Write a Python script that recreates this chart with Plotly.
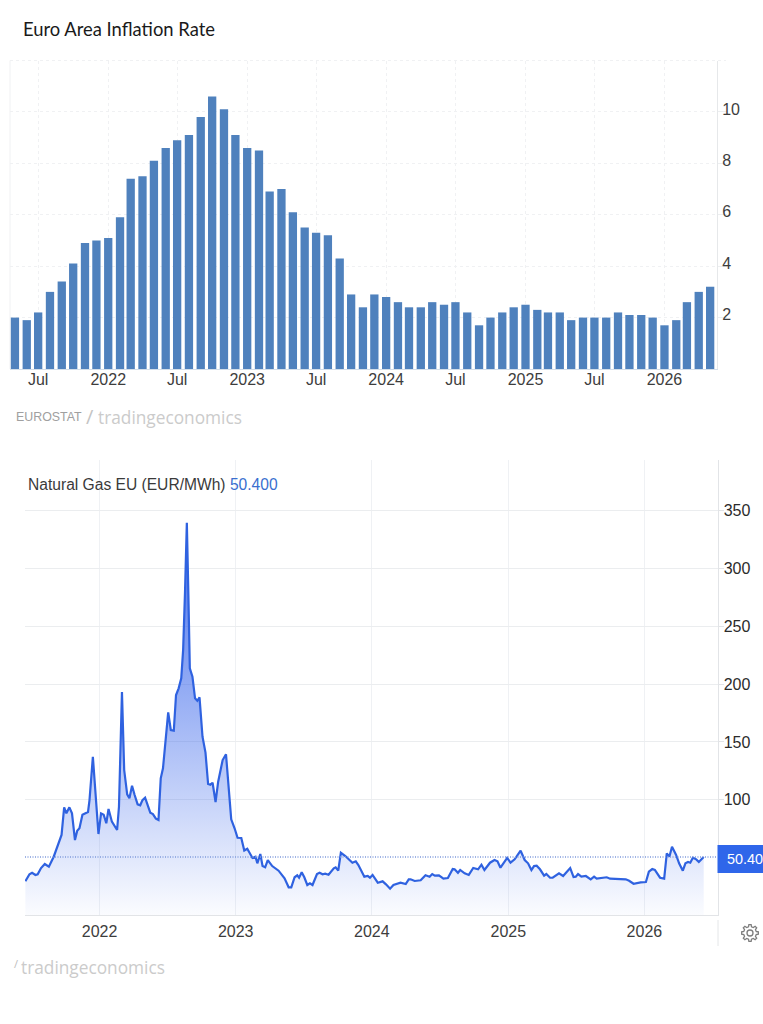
import math

import pandas as pd
import plotly.graph_objects as go

W, H = 763, 1024

# Euro area annual inflation, monthly readings, May 2021 onward
inflation_start = "2021-05-01"
inflation_values = [
    2.0, 1.9, 2.2, 3.0, 3.4, 4.1, 4.9, 5.0, 5.1, 5.9, 7.4, 7.5, 8.1, 8.6, 8.9, 9.1,
    9.8, 10.6, 10.1, 9.1, 8.6, 8.5, 6.9, 7.0, 6.1, 5.5, 5.3, 5.2, 4.3, 2.9, 2.4, 2.9,
    2.8, 2.6, 2.4, 2.4, 2.6, 2.5, 2.6, 2.2, 1.7, 2.0, 2.2, 2.4, 2.5, 2.3, 2.2, 2.2,
    1.9, 2.0, 2.0, 2.0, 2.2, 2.1, 2.1, 2.0, 1.7, 1.9, 2.6, 3.0, 3.2,
]
inflation_tick_dates = ["2021-07-01", "2022-01-01", "2022-07-01", "2023-01-01", "2023-07-01",
                        "2024-01-01", "2024-07-01", "2025-01-01", "2025-07-01", "2026-01-01"]
inflation_tick_labels = ["Jul", "2022", "Jul", "2023", "Jul", "2024", "Jul", "2025", "Jul", "2026"]
inflation_y_ticks = [2, 4, 6, 8, 10]

# TTF gas price: days counted from 1 Jan 2022, and EUR/MWh
gas_days = [
    -199, -188, -181, -172, -166, -157, -147, -136, -123, -113, -102, -95, -89, -81, -74, -66,
    -60, -54, -46, -31, -27, -18, -11, -3, 4, 11, 18, 24, 33, 47, 52, 60,
    66, 74, 80, 87, 94, 102, 109, 115, 122, 128, 136, 143, 151, 158, 164, 170,
    177, 184, 191, 199, 205, 212, 219, 224, 229, 234, 238, 242, 249, 256, 262, 268,
    276, 284, 291, 297, 303, 311, 318, 330, 339, 346, 353, 362, 370, 380, 388, 396,
    410, 418, 423, 431, 437, 444, 451, 463, 480, 496, 507, 514, 523, 530, 535, 542,
    549, 557, 564, 571, 583, 590, 598, 605, 614, 628, 633, 640, 647, 659, 671, 678,
    687, 694, 710, 719, 725, 732, 746, 759, 768, 779, 788, 807, 821, 829, 834, 845,
    861, 874, 885, 892, 899, 910, 922, 934, 947, 952, 961, 967, 979, 990, 1002, 1015,
    1024, 1032, 1047, 1059, 1067, 1075, 1093, 1102, 1113, 1129, 1140, 1149, 1158, 1165, 1172, 1181,
    1192, 1198, 1208, 1215, 1232, 1243, 1262, 1271, 1277, 1283, 1292, 1304, 1317, 1326, 1333, 1360,
    1369, 1389, 1411, 1420, 1432, 1451, 1465, 1473, 1482, 1489, 1503, 1514, 1521, 1528, 1535, 1546,
    1554, 1564, 1571, 1578, 1584, 1591, 1600, 1607, 1620,
]
gas_prices = [
    29.4, 35.5, 36.8, 34.9, 35.5, 40.9, 44.4, 42.0, 50.7, 59.9, 69.5, 93.4, 88.2, 93.4, 88.2, 65.1,
    73.2, 75.3, 87.0, 89.4, 99.7, 137.2, 105.5, 70.3, 88.2, 87.0, 79.6, 92.0, 81.0, 73.8, 93.9, 193.2,
    125.7, 104.7, 101.2, 112.1, 104.1, 96.0, 95.2, 99.7, 101.7, 96.9, 88.8, 87.6, 83.6, 82.4, 118.5, 127.2,
    151.6, 175.6, 160.3, 159.7, 190.6, 196.4, 205.0, 229.5, 278.8, 339.6, 278.8, 213.7, 206.4, 187.7, 185.6, 188.6,
    154.5, 140.8, 113.6, 113.0, 114.7, 98.0, 115.6, 134.3, 139.3, 114.2, 83.0, 75.3, 67.1, 66.9, 56.1, 57.6,
    49.6, 50.7, 45.0, 53.0, 42.6, 41.5, 47.8, 42.6, 38.6, 32.0, 24.2, 24.2, 32.9, 34.6, 32.5, 37.2,
    32.9, 26.2, 27.7, 26.2, 35.7, 36.8, 35.5, 36.0, 35.1, 40.7, 41.5, 38.6, 54.1, 51.3, 47.8, 45.5,
    46.7, 43.5, 33.4, 34.0, 32.5, 34.9, 28.2, 29.4, 26.8, 23.0, 26.2, 28.2, 27.1, 31.1, 31.1, 29.7,
    30.3, 34.6, 33.4, 35.7, 34.3, 34.6, 31.7, 32.3, 40.0, 39.8, 36.8, 39.2, 36.3, 34.9, 40.9, 39.8,
    43.8, 39.2, 45.5, 47.8, 46.7, 41.2, 49.6, 45.5, 48.4, 55.9, 47.8, 45.0, 39.2, 42.6, 42.9, 39.8,
    34.3, 35.7, 32.5, 32.5, 36.3, 34.0, 40.9, 33.1, 33.4, 35.7, 33.4, 34.0, 31.1, 33.4, 31.7, 32.9,
    31.7, 31.7, 31.1, 29.9, 27.3, 28.5, 28.8, 37.7, 40.0, 39.2, 32.5, 31.7, 53.6, 50.7, 59.3, 52.2,
    45.0, 38.6, 45.0, 46.1, 45.5, 49.8, 48.4, 46.1, 50.4,
]
gas_tick_dates = ["2022-01-01", "2023-01-01", "2024-01-01", "2025-01-01", "2026-01-01"]
gas_tick_labels = ["2022", "2023", "2024", "2025", "2026"]
gas_y_ticks = [100, 150, 200, 250, 300, 350]
gas_last = 50.4

months = pd.date_range(inflation_start, periods=len(inflation_values), freq="MS")
gas_dates = pd.Timestamp("2022-01-01") + pd.to_timedelta(gas_days, unit="D")

SANS = "Liberation Sans, Arial, sans-serif"
TICK_FONT = dict(family=SANS, size=16, color="#3d3d3d")
GRID = "#f0f1f3"


def px(x):
    return x / W


def py(y):
    return 1 - y / H


def note(x, y, text, size, color, family=SANS, anchor="left"):
    return dict(xref="paper", yref="paper", x=px(x), y=py(y), text=text, showarrow=False,
                xanchor=anchor, yanchor="middle", borderpad=0,
                font=dict(family=family, size=size, color=color))


def paper_line(x0, y0, x1, y1, color, dash="solid"):
    return dict(type="line", xref="paper", yref="paper", x0=px(x0), y0=py(y0), x1=px(x1), y1=py(y1),
                line=dict(color=color, width=1, dash=dash), layer="below")


def gear_outline(cx, cy, r_outer, r_root, teeth=8):
    # Toothed ring traced as one closed polygon, in paper fractions
    pts = []
    step = 2 * math.pi / teeth
    for i in range(teeth):
        a = i * step
        for offset, r in ((-0.30, r_root), (-0.17, r_outer), (0.17, r_outer), (0.30, r_root)):
            ang = a + offset * step * 1.0
            pts.append((cx + r * math.cos(ang), cy + r * math.sin(ang)))
    return "M " + " L ".join(f"{px(x):.5f},{py(y):.5f}" for x, y in pts) + " Z"


fig = go.Figure()

fig.add_trace(go.Bar(
    x=months, y=inflation_values, width=21.8 * 86400000,
    marker=dict(color="#4f81bd", line=dict(width=0)),
    xaxis="x", yaxis="y", hoverinfo="skip",
))

fig.add_trace(go.Scatter(
    x=gas_dates, y=gas_prices, mode="lines",
    line=dict(color="#2f62e0", width=2.2),
    fill="tozeroy",
    fillgradient=dict(
        type="vertical", start=340, stop=0,
        colorscale=[[0, "rgba(55,100,235,0.92)"], [1, "rgba(55,100,235,0.02)"]],
    ),
    xaxis="x2", yaxis="y2", hoverinfo="skip",
))

shapes = [
    # frame of the inflation panel
    paper_line(10, 60.5, 726, 60.5, GRID, "dot"),
    paper_line(10, 60.5, 10, 369, GRID),
    # short divider beside the gear button
    paper_line(718, 920, 718, 946, "#e4e6e8"),
    # latest gas price: guide line and value badge
    dict(type="line", xref="x2 domain", yref="y2", x0=0, x1=1, y0=gas_last, y1=gas_last,
         line=dict(color="#7f9bdc", width=1.6, dash="1px,1.5px"), layer="above"),
    dict(type="rect", xref="paper", yref="paper", x0=px(717.5), x1=1, y0=py(873), y1=py(845),
         fillcolor="#2f66ea", line=dict(width=0), layer="above"),
    # settings gear, drawn as an outline with a round hub
    dict(type="path", xref="paper", yref="paper", path=gear_outline(750, 933, 8.4, 6.4),
         line=dict(color="#7d7d7d", width=1.3), fillcolor="rgba(0,0,0,0)"),
    dict(type="circle", xref="paper", yref="paper", x0=px(747), x1=px(753), y0=py(936), y1=py(930),
         line=dict(color="#7d7d7d", width=1.3), fillcolor="rgba(0,0,0,0)"),
]

annotations = [
    note(21.5, 29, "Euro Area Inflation Rate", 18.4, "#1a1a1a", "Lato, Carlito, sans-serif"),
    note(14.5, 417, "EUROSTAT", 12.4, "#a0a0a0"),
    note(84.5, 416, "/", 20, "#c4c4c4", "Open Sans, sans-serif"),
    note(97, 417, "tradingeconomics", 17.3, "#cbcbcb", "Open Sans, sans-serif"),
    note(26.5, 484, 'Natural Gas EU (EUR/MWh) <span style="color:#3a6fcf">50.400</span>', 15.6, "#3a3a3a"),
    note(725.5, 859, "50.40", 14.4, "#ffffff"),
    note(12.5, 963, "/", 11, "#bdbdbd", "Open Sans, sans-serif"),
    note(20, 967, "tradingeconomics", 17.3, "#cbcbcb", "Open Sans, sans-serif"),
]

fig.update_layout(
    width=W, height=H, autosize=False,
    margin=dict(l=0, r=0, t=0, b=0),
    paper_bgcolor="white", plot_bgcolor="white",
    showlegend=False, hovermode=False,
    shapes=shapes, annotations=annotations,
    xaxis=dict(
        domain=[px(10), px(717)], range=["2021-04-18", "2026-05-19"], type="date",
        tickmode="array", tickvals=inflation_tick_dates, ticktext=inflation_tick_labels,
        showgrid=True, gridcolor=GRID, griddash="dot", gridwidth=1,
        showline=True, linecolor="#d3deea", linewidth=1,
        ticks="", ticklabelstandoff=-4, tickfont=TICK_FONT, anchor="y", zeroline=False,
    ),
    yaxis=dict(
        domain=[py(369), py(60.5)], range=[0, 12], side="right", anchor="x",
        tickmode="array", tickvals=inflation_y_ticks,
        showgrid=True, gridcolor=GRID, griddash="dot", gridwidth=1,
        showline=True, linecolor="#e6e8ea", linewidth=1,
        ticks="outside", ticklen=9, tickcolor="#eceef0", ticklabelstandoff=-8,
        ticklabelshift=-3, tickfont=TICK_FONT, zeroline=False,
    ),
    xaxis2=dict(
        domain=[px(25), px(717.5)], range=["2021-06-15", "2026-07-16"], type="date",
        tickmode="array", tickvals=gas_tick_dates, ticktext=gas_tick_labels,
        showgrid=True, gridcolor="#eff1f4", gridwidth=1,
        showline=True, linecolor="#e2e4e7", linewidth=1,
        ticks="", ticklabelstandoff=1, tickfont=TICK_FONT, anchor="y2", zeroline=False,
    ),
    yaxis2=dict(
        domain=[py(915.3), py(460)], range=[0, 393.9], side="right", anchor="x2",
        tickmode="array", tickvals=gas_y_ticks,
        showgrid=True, gridcolor="#ebedef", gridwidth=1,
        showline=True, linecolor="#e2e4e7", linewidth=1,
        ticks="outside", ticklen=5, tickcolor="#e2e4e7", ticklabelstandoff=-3,
        tickfont=dict(TICK_FONT, color="#2b2b2b"), zeroline=False,
    ),
)

fig.write_html("out.html", config=dict(displayModeBar=False))
